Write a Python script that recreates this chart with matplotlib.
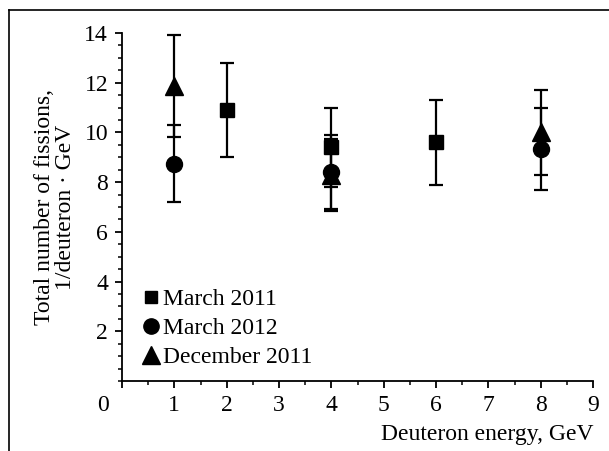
import numpy as np
import matplotlib.pyplot as plt
from matplotlib.lines import Line2D
from matplotlib.ticker import MultipleLocator
import matplotlib.transforms as mtransforms

plt.rcParams['font.family'] = ['Liberation Serif', 'DejaVu Serif']

# March 2011
x_m11 = [2, 4, 6]
y_m11 = [10.9, 9.4, 9.6]
e_m11 = [1.9, 1.6, 1.7]

# March 2012
x_m12 = [1, 4, 8]
y_m12 = [8.75, 8.4, 9.35]
e_m12 = [1.55, 1.5, 1.65]

# December 2011
x_d11 = [1, 4, 8]
y_d11 = [11.85, 8.3, 10.0]
e_d11 = [2.05, 1.45, 1.7]

series_names = ['March 2011', 'March 2012', 'December 2011']
xtick_vals = list(range(0, 10))
ytick_vals = [2, 4, 6, 8, 10, 12, 14]

fig = plt.figure(figsize=(6.09, 4.51), dpi=100)
ax = fig.add_axes([0.2003, 0.1552, 0.7737, 0.7716])

err_kw = dict(ecolor='black', elinewidth=1.6, capsize=5, capthick=1.6, linestyle='none', color='black')
ax.errorbar(x_m11, y_m11, yerr=e_m11, marker='s', markersize=10, **err_kw)
ax.errorbar(x_m12, y_m12, yerr=e_m12, marker='o', markersize=11.5, **err_kw)
ax.errorbar(x_d11, y_d11, yerr=e_d11, marker='^', markersize=13, **err_kw)

ax.set_xlim(0, 9)
ax.set_ylim(0, 14)
ax.spines['top'].set_visible(False)
ax.spines['right'].set_visible(False)
for s in ['left', 'bottom']:
    ax.spines[s].set_linewidth(1.3)

ax.set_xticks(xtick_vals)
ax.set_yticks(ytick_vals)
ax.xaxis.set_minor_locator(MultipleLocator(0.5))
ax.yaxis.set_minor_locator(MultipleLocator(0.5))
ax.tick_params(which='major', direction='out', length=5, width=1.3, labelsize=17, pad=5)
ax.tick_params(which='minor', direction='out', length=3, width=1.1)

# "0" label sits left of the corner
offset = mtransforms.ScaledTranslation(-19 / 100, 0, fig.dpi_scale_trans)
lbl0 = ax.get_xticklabels()[0]
lbl0.set_transform(lbl0.get_transform() + offset)

ax.set_xlabel('Deuteron energy, GeV', fontsize=17, ha='right', x=1.0, labelpad=6)
ax.set_ylabel('Total number of fissions,\n1/deuteron · GeV', fontsize=17, linespacing=1.0, labelpad=6)

handles = [Line2D([], [], marker='s', markersize=9, color='black', linestyle='none'),
           Line2D([], [], marker='o', markersize=11, color='black', linestyle='none'),
           Line2D([], [], marker='^', markersize=13, color='black', linestyle='none')]
ax.legend(handles, series_names, loc='lower left', bbox_to_anchor=(0.02, 0.0), frameon=False,
          fontsize=17, handlelength=0.6, handletextpad=0.2, labelspacing=0.32, borderaxespad=0.15)

# partial frame around the figure
fig.add_artist(Line2D([0.0148, 0.0148], [0.0, 0.978], transform=fig.transFigure, color='black', lw=1.2))
fig.add_artist(Line2D([0.0148, 1.0], [0.978, 0.978], transform=fig.transFigure, color='black', lw=1.2))

fig.savefig('out.png', dpi=100)
